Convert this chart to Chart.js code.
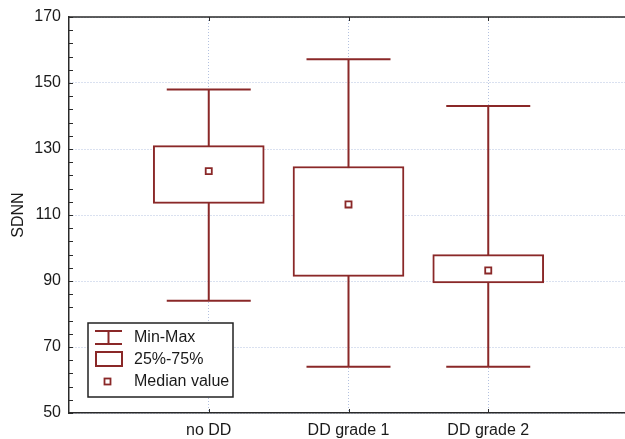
<!DOCTYPE html>
<html>
<head>
<meta charset="utf-8">
<script src="https://cdn.jsdelivr.net/npm/chart.js@4"></script>
<style>
  html, body { margin: 0; padding: 0; overflow: hidden; background: #fff; }
  #wrap { width: 628px; height: 439px; }
</style>
</head>
<body>
<div id="wrap"><canvas id="myChart"></canvas></div>
<script>
// data
const categories = ['no DD', 'DD grade 1', 'DD grade 2'];
const minValues = [84, 64, 64];
const q1Values = [113.5, 91.4, 89.4];
const medianValues = [123.3, 113.2, 93.2];
const q3Values = [131, 124.7, 98];
const maxValues = [148, 157.2, 143];
const yTicks = [50, 70, 90, 110, 130, 150, 170];
const legendLabels = ['Min-Max', '25%-75%', 'Median value'];

const red = '#8a2828';
const gridColor = '#b4c2e0';
const axisColor = '#2a2a2a';
const textColor = '#1a1a1a';
const fontFamily = '"Liberation Sans", Arial, sans-serif';

const xs = categories.map((c, i) => i + 1);

let whiskerData = [];
xs.forEach((x, i) => {
    whiskerData.push({x: x, y: minValues[i]}, {x: x, y: maxValues[i]}, {x: x + 0.5, y: null});
});
let capData = [];
xs.forEach((x, i) => {
    capData.push({x: x, y: minValues[i]}, {x: x, y: maxValues[i]});
});
const boxData = xs.map((x, i) => ({x: x, y: [q1Values[i], q3Values[i]]}));
const medianData = xs.map((x, i) => ({x: x, y: medianValues[i]}));

function pinScale(s, w, h) {
    if (w !== null) s.width = w;
    if (h !== null) s.height = h;
    s.paddingTop = 0;
    s.paddingBottom = 0;
    s.paddingLeft = 0;
    s.paddingRight = 0;
}

// frame, inward ticks and the legend box
const extras = {
    id: 'extras',
    afterDraw(chart) {
        const ctx = chart.ctx;
        const ca = chart.chartArea;
        const yScale = chart.scales.y;
        const xScale = chart.scales.x;
        ctx.save();
        ctx.strokeStyle = axisColor;
        ctx.lineWidth = 1.5;
        ctx.beginPath();
        ctx.moveTo(ca.left, ca.top);
        ctx.lineTo(ca.right, ca.top);
        ctx.stroke();

        ctx.lineWidth = 1;
        ctx.beginPath();
        for (let v = yScale.min; v <= yScale.max; v += 4) {
            const py = Math.round(yScale.getPixelForValue(v)) + 0.5;
            ctx.moveTo(ca.left, py);
            ctx.lineTo(ca.left + 4, py);
        }
        xs.forEach(x => {
            const px = Math.round(xScale.getPixelForValue(x)) + 0.5;
            ctx.moveTo(px, ca.top);
            ctx.lineTo(px, ca.top + 4);
            ctx.moveTo(px, ca.bottom);
            ctx.lineTo(px, ca.bottom - 4);
        });
        ctx.stroke();

        // legend
        const lx = 88, ly = 323, lw = 145, lh = 74;
        ctx.fillStyle = '#fff';
        ctx.fillRect(lx, ly, lw, lh);
        ctx.strokeStyle = '#222';
        ctx.lineWidth = 1.5;
        ctx.strokeRect(lx, ly, lw, lh);

        ctx.strokeStyle = red;
        ctx.lineWidth = 2;
        ctx.beginPath();
        ctx.moveTo(95, 331); ctx.lineTo(122, 331);
        ctx.moveTo(95, 344); ctx.lineTo(122, 344);
        ctx.moveTo(108.5, 331); ctx.lineTo(108.5, 344);
        ctx.stroke();
        ctx.strokeRect(96, 352, 26, 14);
        ctx.lineWidth = 1.8;
        ctx.strokeRect(104.5, 378.5, 6, 6);

        ctx.fillStyle = textColor;
        ctx.font = '16px ' + fontFamily;
        ctx.textBaseline = 'middle';
        ctx.textAlign = 'left';
        ctx.fillText(legendLabels[0], 134, 338);
        ctx.fillText(legendLabels[1], 134, 360);
        ctx.fillText(legendLabels[2], 134, 382);
        ctx.restore();
    }
};

const ctx = document.getElementById('myChart').getContext('2d');
const myChart = new Chart(ctx, {
    type: 'bar',
    data: {
        datasets: [
            {
                type: 'line',
                data: whiskerData,
                borderColor: red,
                borderWidth: 2,
                pointRadius: 0,
                spanGaps: false,
                order: 4
            },
            {
                type: 'scatter',
                data: capData,
                pointStyle: 'line',
                pointRadius: 42,
                borderColor: red,
                borderWidth: 2,
                order: 3
            },
            {
                type: 'bar',
                data: boxData,
                backgroundColor: '#fff',
                borderColor: red,
                borderWidth: 2,
                borderSkipped: false,
                barThickness: 111,
                grouped: false,
                order: 2
            },
            {
                type: 'scatter',
                data: medianData,
                pointStyle: 'rect',
                pointRadius: 4.3,
                backgroundColor: '#fff',
                borderColor: red,
                borderWidth: 1.8,
                order: 1
            }
        ]
    },
    options: {
        responsive: true,
        maintainAspectRatio: false,
        animation: false,
        layout: { autoPadding: false, padding: { top: 17, left: 0, right: 0, bottom: 0 } },
        plugins: {
            legend: { display: false },
            tooltip: { enabled: false }
        },
        scales: {
            x: {
                type: 'linear',
                min: 0,
                max: 4,
                offset: false,
                afterBuildTicks: s => { s.ticks = xs.map(v => ({value: v})); },
                afterFit: s => pinScale(s, null, 26),
                ticks: {
                    callback: v => categories[Math.round(v) - 1],
                    color: textColor,
                    font: { family: fontFamily, size: 16 },
                    padding: 8,
                    autoSkip: false,
                    maxRotation: 0
                },
                grid: { color: gridColor, drawTicks: false, offset: false },
                border: { color: axisColor, width: 1.5, dash: [1, 2] }
            },
            y: {
                min: 50,
                max: 170,
                afterBuildTicks: s => { s.ticks = yTicks.map(v => ({value: v})); },
                afterFit: s => pinScale(s, 69, null),
                ticks: {
                    color: textColor,
                    font: { family: fontFamily, size: 16 },
                    padding: 8
                },
                grid: { color: gridColor, drawTicks: false },
                border: { color: axisColor, width: 1.5, dash: [1, 2] },
                title: {
                    display: true,
                    text: 'SDNN',
                    color: textColor,
                    font: { family: fontFamily, size: 16 },
                    padding: { top: 9, bottom: 0 }
                }
            }
        }
    },
    plugins: [extras]
});
</script>
</body>
</html>
